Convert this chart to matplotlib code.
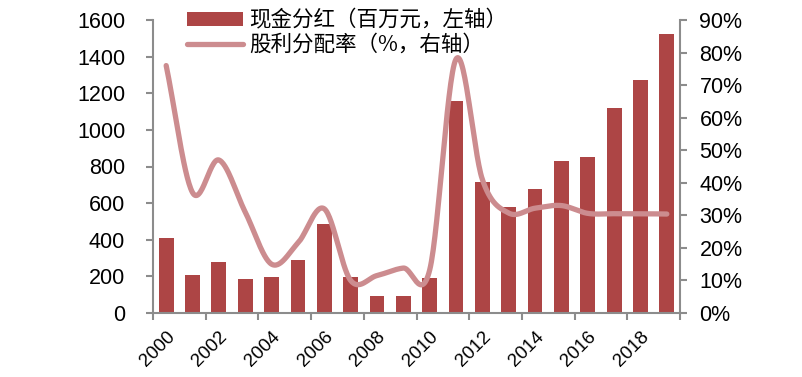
import numpy as np
import matplotlib
matplotlib.use("Agg")
import matplotlib.pyplot as plt
from matplotlib.lines import Line2D
from matplotlib.patches import Patch

plt.rcParams['font.family'] = ['Liberation Sans', 'Noto Sans CJK SC', 'DejaVu Sans']

years = list(range(2000, 2020))
dividend = [410, 210, 280, 185, 195, 290, 485, 195, 95, 95,
            190, 1160, 715, 580, 675, 830, 850, 1120, 1275, 1525]
payout = [76, 37, 47, 31, 15, 21.5, 32, 10, 11.5, 13.8,
          13.2, 78, 41, 30.7, 32.2, 33, 30.6, 30.5, 30.5, 30.4]
tick_labels = [str(y) for y in years[::2]]

bar_color = '#AD4545'
line_color = '#CC8C8F'
axis_color = '#8C8C8C'


def catmull_rom(x, y, n=30):
    x = np.asarray(x, float); y = np.asarray(y, float)
    px = np.concatenate([[2 * x[0] - x[1]], x, [2 * x[-1] - x[-2]]])
    py = np.concatenate([[2 * y[0] - y[1]], y, [2 * y[-1] - y[-2]]])
    xs, ys = [], []
    for i in range(1, len(px) - 2):
        p0, p1, p2, p3 = [np.array([px[j], py[j]]) for j in (i - 1, i, i + 1, i + 2)]
        c1 = p1 + (p2 - p0) / 6.0
        c2 = p2 - (p3 - p1) / 6.0
        t = np.linspace(0, 1, n, endpoint=(i == len(px) - 3))
        pts = ((1 - t) ** 3)[:, None] * p1 + (3 * (1 - t) ** 2 * t)[:, None] * c1 \
            + (3 * (1 - t) * t ** 2)[:, None] * c2 + (t ** 3)[:, None] * p2
        xs.append(pts[:, 0]); ys.append(pts[:, 1])
    return np.concatenate(xs), np.concatenate(ys)


fig = plt.figure(figsize=(8.02, 3.77), dpi=100)
ax = fig.add_axes([153 / 802, 1 - 313 / 377, (680 - 153) / 802, (313 - 20) / 377])
ax2 = ax.twinx()

x = np.arange(len(years))
ax.bar(x, dividend, width=0.56, color=bar_color, zorder=2)
ax.set_xlim(-0.5, len(years) - 0.5)
ax.set_ylim(0, 1600)
ax.set_yticks(np.arange(0, 1601, 200))

sx, sy = catmull_rom(x, payout)
ax2.plot(sx, np.array(sy) / 100, color=line_color, lw=3.8, solid_capstyle='round', zorder=3)
ax2.set_ylim(0, 0.9)
ax2.set_yticks(np.arange(0, 0.91, 0.1))
ax2.set_yticklabels([f"{int(round(v * 100))}%" for v in np.arange(0, 0.91, 0.1)])

ax.set_xticks(x[::2])
ax.set_xticklabels(tick_labels, rotation=45, ha='right', va='top', rotation_mode='anchor')
ax.set_xticks(np.arange(-0.5, len(years), 2), minor=True)
ax.tick_params(axis='x', which='major', length=0, pad=11, labelsize=13.5)
ax.tick_params(axis='x', which='minor', length=5, width=1.5, color=axis_color, direction='out')
ax.tick_params(axis='y', length=5, width=1.5, color=axis_color, labelsize=15.5, pad=15)
ax2.tick_params(axis='y', length=5, width=1.5, color=axis_color, labelsize=15.5, pad=9)

for a in (ax, ax2):
    a.spines['top'].set_visible(False)
    for s in ('left', 'right', 'bottom'):
        a.spines[s].set_color(axis_color)
        a.spines[s].set_linewidth(1.5)
ax.spines['right'].set_visible(False)
ax2.spines['left'].set_visible(False)
ax2.spines['bottom'].set_visible(False)

handles = [Patch(facecolor=bar_color, edgecolor='none'),
           Line2D([0], [0], color=line_color, lw=3.8, solid_capstyle='round')]
labels = ['现金分红（百万元，左轴）', '股利分配率（%，右轴）']
fig.legend(handles, labels, loc='upper left', bbox_to_anchor=(178 / 802, 0.998),
           frameon=False, handlelength=2.6, handleheight=0.6,
           handletextpad=0.3, labelspacing=0.12, borderaxespad=0,
           prop={'family': ['Noto Sans CJK SC'], 'size': 15.5})

fig.savefig('out.png', dpi=100)
